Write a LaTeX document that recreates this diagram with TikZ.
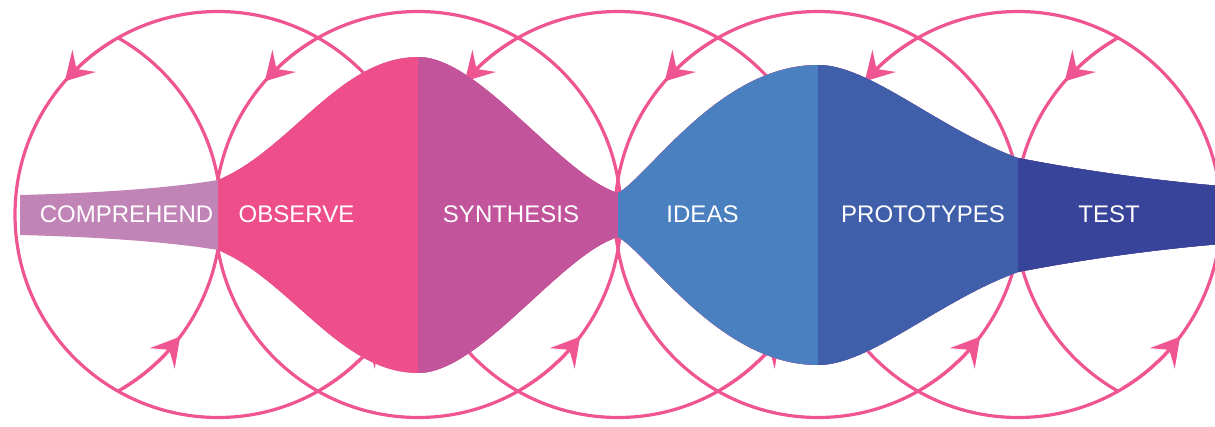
\documentclass[tikz,border=0pt]{standalone}
\usepackage{fontspec}
\setmainfont{Liberation Sans}
\usetikzlibrary{arrows.meta,bending}
\definecolor{loop}{HTML}{EF5590}
\definecolor{cComp}{HTML}{C184B6}
\definecolor{cObs}{HTML}{EE4F8A}
\definecolor{cSyn}{HTML}{C2549C}
\definecolor{cIdea}{HTML}{4A7FC0}
\definecolor{cProt}{HTML}{405FAA}
\definecolor{cTest}{HTML}{38439A}
\begin{document}
\begin{tikzpicture}[x=1pt,y=1pt,
  loopline/.style={draw=loop,line width=3.2pt},
  looparrow/.style={loopline,-{Stealth[length=28pt,width=32pt,inset=11pt,fill=loop]}},
  stagetext/.style={text=white,font=\fontsize{24}{28}\selectfont,anchor=base,inner sep=0pt}]
\useasboundingbox (0,0) rectangle (1215,426);
\clip (0,0) rectangle (1215,426);
% loops
\foreach \cx in {218,418,618,818,1018}
  \draw[loopline] (\cx,211.5) circle[radius=203];
\draw[loopline] ([shift={(18,211.5)}]-60.5:203) arc[start angle=-60.5,end angle=60.5,radius=203];
\draw[loopline] ([shift={(1218,211.5)}]119.5:203) arc[start angle=119.5,end angle=240.5,radius=203];
\foreach \cx in {218,418,...,1218}
  \draw[looparrow] ([shift={(\cx,211.5)}]121:203) arc[start angle=121,end angle=139,radius=203];
\foreach \cx in {18,218,...,1018}
  \draw[looparrow] ([shift={(\cx,211.5)}]-59:203) arc[start angle=-59,end angle=-37,radius=203];
% band
\def\band{(20,231) .. controls (100,233) and (170,238) .. (218,246)
  .. controls (290,276) and (340,369) .. (418,369)
  .. controls (480,369) and (560,251) .. (618,233)
  .. controls (650,251) and (720,361) .. (818,361)
  .. controls (870,361) and (940,296) .. (1018,268)
  .. controls (1080,256) and (1150,246) .. (1220,240)
  -- (1220,182)
  .. controls (1150,176) and (1080,166) .. (1018,154)
  .. controls (940,126) and (870,61) .. (818,61)
  .. controls (720,61) and (650,171) .. (618,189)
  .. controls (560,171) and (480,53) .. (418,53)
  .. controls (340,53) and (290,146) .. (218,176)
  .. controls (170,184) and (100,189) .. (20,191) -- cycle}
\fill[cComp] \band;
\foreach \x/\c in {218/cObs,418/cSyn,618/cIdea,818/cProt,1018/cTest}{
  \begin{scope}
    \clip (\x,0) rectangle (1230,426);
    \fill[\c] \band;
  \end{scope}
}
% labels
\node[stagetext] (comprehend) at (126.5,203) {COMPREHEND};
\node[stagetext] (observe) at (296.5,203) {OBSERVE};
\node[stagetext] (synthesis) at (511,203) {SYNTHESIS};
\node[stagetext] (ideas) at (702.5,203) {IDEAS};
\node[stagetext] (prototypes) at (923,203) {PROTOTYPES};
\node[stagetext] (test) at (1109,203) {TEST};
\end{tikzpicture}
\end{document}
